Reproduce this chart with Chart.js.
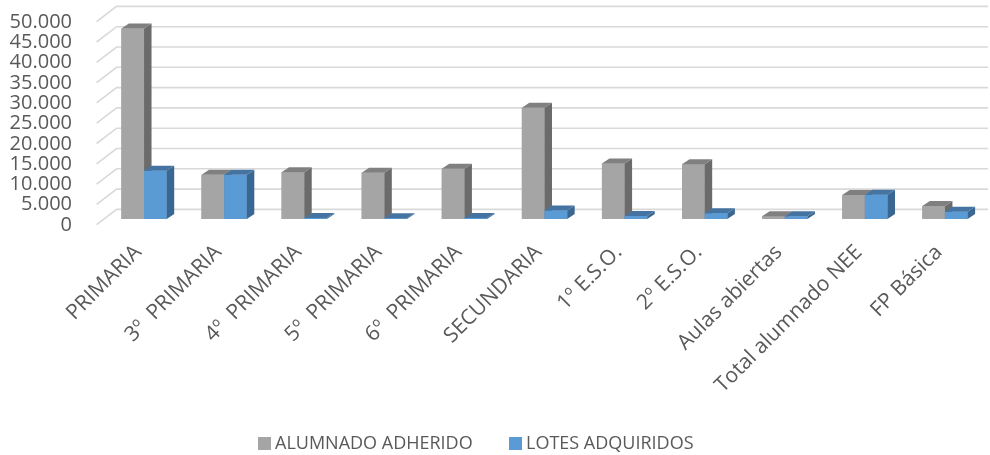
<!DOCTYPE html>
<html>
<head>
<meta charset="utf-8">
<title>Alumnado adherido y lotes adquiridos</title>
<script src="https://cdn.jsdelivr.net/npm/chart.js@4"></script>
<style>
  html, body { margin: 0; padding: 0; background: #fff; }
  canvas { display: block; }
</style>
</head>
<body>
<canvas id="chart" width="990" height="455"></canvas>
<script>
// data
const categories = ['PRIMARIA', '3º  PRIMARIA', '4º  PRIMARIA', '5º  PRIMARIA', '6º  PRIMARIA',
    'SECUNDARIA', '1º E.S.O.', '2º E.S.O.', 'Aulas abiertas', 'Total alumnado NEE', 'FP Básica'];
const alumnadoAdherido = [46900, 10900, 11500, 11400, 12400, 27400, 13700, 13500, 700, 5900, 3200];
const lotesAdquiridos = [11900, 10900, 250, 200, 250, 2100, 750, 1400, 650, 6000, 1800];
const seriesNames = ['ALUMNADO ADHERIDO', 'LOTES ADQUIRIDOS'];
const yTicks = [0, 5000, 10000, 15000, 20000, 25000, 30000, 35000, 40000, 45000, 50000];

const TEXT = '#595959';
const GRID = '#d9d9d9';
// front / side / top shades for the fake 3d look
const shades = [
    { front: '#a5a5a5', side: '#6b6b6b', top: '#808080' },
    { front: '#5b9bd5', side: '#3a6792', top: '#4674a2' }
];
// depth of the back wall and of each bar (pixels)
const wallBack = { dx: 12.6, dy: 9.6 };
const wallFront = { dx: 7.4, dy: 5.7 };
const barDepth = { dx: 7.5, dy: 5 };

function fmt(v) {
    return v.toLocaleString('de-DE');
}

// back wall gridlines with the slanted side lines
const wallPlugin = {
    id: 'wall',
    beforeDatasetsDraw(chart) {
        const ctx = chart.ctx;
        const y = chart.scales.y;
        const left = chart.chartArea.left;
        ctx.save();
        ctx.strokeStyle = GRID;
        ctx.lineWidth = 1.6;
        yTicks.forEach(v => {
            const py = y.getPixelForValue(v);
            ctx.beginPath();
            ctx.moveTo(left - wallFront.dx, py + wallFront.dy);
            ctx.lineTo(left + wallBack.dx, py - wallBack.dy);
            ctx.lineTo(chart.width - 2, py - wallBack.dy);
            ctx.stroke();
        });
        ctx.restore();
    }
};

// redraw bars per category so the side faces overlap correctly
const boxPlugin = {
    id: 'box3d',
    afterDatasetsDraw(chart) {
        const ctx = chart.ctx;
        const metas = chart.data.datasets.map((d, i) => chart.getDatasetMeta(i));
        ctx.save();
        categories.forEach((c, i) => {
            metas.forEach((meta, d) => {
                const el = meta.data[i];
                if (!el) return;
                const l = el.x - el.width / 2;
                const r = el.x + el.width / 2;
                const t = Math.min(el.y, el.base);
                const b = Math.max(el.y, el.base);
                const s = shades[d];
                ctx.fillStyle = s.front;
                ctx.fillRect(l, t, r - l, b - t);
                ctx.fillStyle = s.side;
                ctx.beginPath();
                ctx.moveTo(r, t);
                ctx.lineTo(r + barDepth.dx, t - barDepth.dy);
                ctx.lineTo(r + barDepth.dx, b - barDepth.dy);
                ctx.lineTo(r, b);
                ctx.closePath();
                ctx.fill();
                ctx.fillStyle = s.top;
                ctx.beginPath();
                ctx.moveTo(l, t);
                ctx.lineTo(l + barDepth.dx, t - barDepth.dy);
                ctx.lineTo(r + barDepth.dx, t - barDepth.dy);
                ctx.lineTo(r, t);
                ctx.closePath();
                ctx.fill();
            });
        });
        ctx.restore();
    }
};

// legend drawn under the labels
const legendPlugin = {
    id: 'bottomLegend',
    afterDraw(chart) {
        const ctx = chart.ctx;
        const items = [{ x: 258 }, { x: 509 }];
        const cy = 443;
        ctx.save();
        ctx.font = '18px "Open Sans"';
        ctx.textBaseline = 'middle';
        chart.data.datasets.forEach((ds, i) => {
            const x = items[i].x;
            ctx.fillStyle = shades[i].front;
            ctx.fillRect(x, cy - 6, 13, 13);
            ctx.fillStyle = TEXT;
            ctx.fillText(ds.label, x + 17, cy + 1);
        });
        ctx.restore();
    }
};

new Chart(document.getElementById('chart'), {
    type: 'bar',
    data: {
        labels: categories,
        datasets: [
            { label: seriesNames[0], data: alumnadoAdherido, backgroundColor: shades[0].front, borderWidth: 0 },
            { label: seriesNames[1], data: lotesAdquiridos, backgroundColor: shades[1].front, borderWidth: 0 }
        ]
    },
    options: {
        responsive: false,
        animation: false,
        devicePixelRatio: 1,
        layout: { padding: { top: 16, right: 5, bottom: 0, left: 0 } },
        datasets: {
            bar: { categoryPercentage: 0.566, barPercentage: 1 }
        },
        plugins: {
            legend: { display: false },
            tooltip: { enabled: false }
        },
        scales: {
            x: {
                grid: { display: false, drawTicks: false },
                border: { display: false },
                ticks: {
                    autoSkip: false,
                    maxRotation: 45,
                    minRotation: 45,
                    padding: 21,
                    labelOffset: -6,
                    color: TEXT,
                    font: { family: 'Open Sans', size: 21 }
                },
                afterFit(scale) {
                    scale.height = 236;
                    scale.paddingLeft = 0;
                    scale.paddingRight = 0;
                }
            },
            y: {
                min: 0,
                max: 50000,
                grid: { display: false, drawTicks: false },
                border: { display: false },
                ticks: {
                    stepSize: 5000,
                    autoSkip: false,
                    padding: 32,
                    labelOffset: 6,
                    color: TEXT,
                    font: { family: 'Open Sans', size: 20, lineHeight: 1 },
                    callback: v => fmt(v)
                },
                afterFit(scale) {
                    scale.width = 104;
                    scale.paddingTop = 0;
                    scale.paddingBottom = 0;
                }
            }
        }
    },
    plugins: [wallPlugin, boxPlugin, legendPlugin]
});
</script>
</body>
</html>
